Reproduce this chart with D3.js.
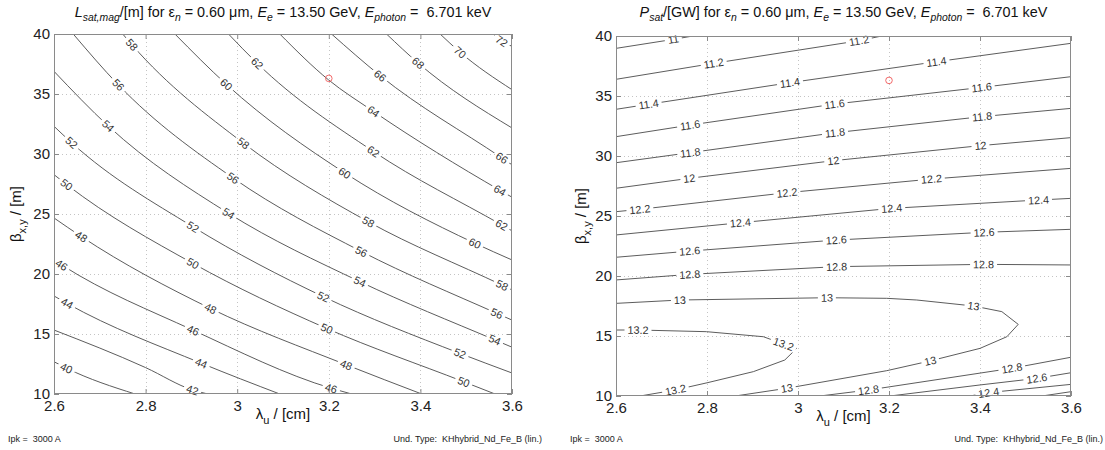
<!DOCTYPE html>
<html>
<head>
<meta charset="utf-8">
<script src="https://cdn.jsdelivr.net/npm/d3@7"></script>
<style>
  body { margin: 0; background: #fff; }
  svg { display: block; font-family: 'Liberation Sans', Arial, sans-serif; }
  text { white-space: pre; }
</style>
</head>
<body>
<div id="wrapper"></div>
<script>
// ---------------------------------------------------
// 1. DATA
// ---------------------------------------------------
const xTicks = [2.6, 2.8, 3, 3.2, 3.4, 3.6]
const yTicks = [10, 15, 20, 25, 30, 35, 40]
const designPoint = [3.2, 36.3]

// L_sat contours: [level, [[lambda_u, beta], ...]]
const lsatLines = [
  [40, [[2.6, 12.69], [2.628, 12.14], [2.777, 10]]],
  [42, [[2.6, 15.33], [2.8, 12.2], [2.903, 10.33], [2.936, 10]]],
  [44, [[2.6, 18.17], [2.628, 17.56], [2.922, 12.56], [3.093, 10]]],
  [46, [[2.6, 21.17], [2.617, 20.75], [2.903, 15.33], [3.206, 10.47], [3.25, 10]]],
  [48, [[2.6, 24.67], [2.66, 23.11], [2.941, 17.14], [3.239, 12.42], [3.403, 10]]],
  [50, [[2.6, 28.28], [2.628, 27.44], [2.903, 20.89], [3.195, 15.47], [3.494, 11.03], [3.563, 10]]],
  [52, [[2.6, 32.31], [2.639, 30.92], [2.903, 23.94], [3.188, 18.11], [3.486, 13.39], [3.6, 11.75]]],
  [54, [[2.6, 36.89], [2.719, 32.31], [2.981, 25.06], [3.268, 19.36], [3.563, 14.5], [3.6, 13.9]]],
  [56, [[2.642, 40], [2.74, 35.78], [2.991, 28], [3.272, 21.86], [3.567, 16.72], [3.6, 16.16]]],
  [58, [[2.75, 40], [2.77, 39.11], [3.013, 30.92], [3.286, 24.36], [3.578, 19.08], [3.6, 18.68]]],
  [60, [[2.864, 40], [2.977, 35.78], [3.235, 28.42], [3.519, 22.56], [3.6, 21.17]]],
  [62, [[2.981, 40], [3.043, 37.58], [3.297, 30.22], [3.578, 24.08], [3.6, 23.6]]],
  [64, [[3.093, 40], [3.199, 36.19], [3.297, 33.56], [3.574, 26.97], [3.6, 26.4]]],
  [66, [[3.206, 40], [3.312, 36.53], [3.578, 29.67], [3.6, 29.1]]],
  [68, [[3.326, 40], [3.395, 37.58], [3.6, 32.17]]],
  [70, [[3.443, 40], [3.486, 38.5], [3.6, 35.36]]],
  [72, [[3.559, 40], [3.578, 39.39], [3.6, 38.98]]],
]

// label anchors: [level, lambda_u, beta]
const lsatLabels = [
  [72, 3.578, 39.39], [70, 3.486, 38.5], [68, 3.395, 37.58],
  [66, 3.312, 36.53], [66, 3.578, 29.67],
  [64, 3.297, 33.56], [64, 3.574, 26.97],
  [62, 3.043, 37.58], [62, 3.297, 30.22], [62, 3.578, 24.08],
  [60, 2.977, 35.78], [60, 3.235, 28.42], [60, 3.519, 22.56],
  [58, 2.77, 39.11], [58, 3.013, 30.92], [58, 3.286, 24.36], [58, 3.578, 19.08],
  [56, 2.74, 35.78], [56, 2.991, 28], [56, 3.272, 21.86], [56, 3.567, 16.72],
  [54, 2.719, 32.31], [54, 2.981, 25.06], [54, 3.268, 19.36], [54, 3.563, 14.5],
  [52, 2.639, 30.92], [52, 2.903, 23.94], [52, 3.188, 18.11], [52, 3.486, 13.39],
  [50, 2.628, 27.44], [50, 2.903, 20.89], [50, 3.195, 15.47], [50, 3.494, 11.03],
  [48, 2.66, 23.11], [48, 2.941, 17.14], [48, 3.239, 12.42],
  [46, 2.617, 20.75], [46, 2.903, 15.33], [46, 3.206, 10.47],
  [44, 2.628, 17.56], [44, 2.922, 12.56],
  [42, 2.903, 10.33],
  [40, 2.628, 12.14],
]

// P_sat contours
const psatLines = [
  [11, [[2.6, 38.97], [2.726, 39.72], [2.769, 40]]],
  [11.2, [[2.6, 36.39], [2.814, 37.72], [3.133, 39.6], [3.184, 40]]],
  [11.4, [[2.6, 33.89], [2.671, 34.31], [2.982, 36.11], [3.305, 37.86], [3.6, 39.39]]],
  [11.6, [[2.6, 31.61], [2.763, 32.58], [3.081, 34.33], [3.404, 35.72], [3.6, 36.61]]],
  [11.8, [[2.6, 29.44], [2.763, 30.28], [3.081, 31.94], [3.404, 33.28], [3.6, 33.97]]],
  [12, [[2.6, 27.31], [2.761, 28.14], [3.078, 29.61], [3.4, 30.86], [3.6, 31.53]]],
  [12.2, [[2.6, 25.36], [2.653, 25.56], [2.975, 26.94], [3.294, 28.08], [3.6, 28.97]]],
  [12.4, [[2.6, 23.42], [2.873, 24.44], [3.206, 25.64], [3.528, 26.33], [3.6, 26.47]]],
  [12.6, [[2.6, 21.56], [2.763, 22.08], [3.085, 23.0], [3.408, 23.64], [3.6, 23.89]]],
  [12.8, [[2.6, 19.67], [2.763, 20.14], [3.085, 20.78], [3.408, 20.97], [3.6, 20.92]]],
  [13, [[2.6, 17.72], [2.741, 18.0], [3.063, 18.19], [3.195, 18.14], [3.261, 18.0], [3.386, 17.5],
        [3.448, 17.03], [3.484, 15.97], [3.459, 14.94], [3.4, 13.97], [3.29, 12.92], [3.195, 12.11],
        [2.975, 10.64], [2.862, 10]]],
  [13.2, [[2.6, 15.5], [2.649, 15.5], [2.799, 15.36], [2.924, 14.94], [2.968, 14.33], [2.997, 13.97],
          [2.971, 13.0], [2.902, 12.03], [2.8, 11.1], [2.73, 10.5], [2.653, 10]]],
  [12.8, [[3.048, 10], [3.155, 10.5], [3.47, 12.31], [3.6, 13.23]]],
  [12.6, [[3.202, 10], [3.4, 10.92], [3.525, 11.47], [3.6, 11.94]]],
  [12.4, [[3.378, 10], [3.418, 10.28], [3.6, 10.97]]],
  [12.2, [[3.536, 10], [3.6, 10.36]]],
]

const psatLabels = [
  [11, 2.726, 39.72],
  [11.2, 2.814, 37.72], [11.2, 3.133, 39.6],
  [11.4, 2.671, 34.31], [11.4, 2.982, 36.11], [11.4, 3.305, 37.86],
  [11.6, 2.763, 32.58], [11.6, 3.081, 34.33], [11.6, 3.404, 35.72],
  [11.8, 2.763, 30.28], [11.8, 3.081, 31.94], [11.8, 3.404, 33.28],
  [12, 2.761, 28.14], [12, 3.078, 29.61], [12, 3.4, 30.86],
  [12.2, 2.653, 25.56], [12.2, 2.975, 26.94], [12.2, 3.294, 28.08],
  [12.4, 2.873, 24.44], [12.4, 3.206, 25.64], [12.4, 3.528, 26.33],
  [12.6, 2.763, 22.08], [12.6, 3.085, 23.0], [12.6, 3.408, 23.64],
  [12.8, 2.763, 20.14], [12.8, 3.085, 20.78], [12.8, 3.408, 20.97],
  [13, 2.741, 18.0], [13, 3.063, 18.19], [13, 3.386, 17.5], [13, 3.29, 12.92], [13, 2.975, 10.64],
  [13.2, 2.649, 15.5], [13.2, 2.968, 14.33], [13.2, 2.73, 10.5],
  [12.8, 3.155, 10.5], [12.8, 3.47, 12.31],
  [12.6, 3.525, 11.47],
  [12.4, 3.418, 10.28],
]

// title pieces: [text, kind] kind: n normal, i italic, s italic subscript
const tail = [[' = 0.60 μm, ', 'n'], ['E', 'i'], ['e', 's'], [' = 13.50 GeV, ', 'n'],
  ['E', 'i'], ['photon', 's'], [' =  6.701 keV', 'n']]
const lsatTitle = [['L', 'i'], ['sat,mag', 's'], ['/[m] for ε', 'n'], ['n', 's']].concat(tail)
const psatTitle = [['P', 'i'], ['sat', 's'], ['/[GW] for ε', 'n'], ['n', 's']].concat(tail)
const xLabel = [['λ', 'n'], ['u', 'sn'], [' / [cm]', 'n']]
const yLabel = [['β', 'n'], ['x,y', 'sn'], [' / [m]', 'n']]

// ---------------------------------------------------
// 2. DIMENSIONS
// ---------------------------------------------------
const W = 1105
const H = 450
const panels = [
  { id: 'lsat', left: 54, top: 34, width: 458, height: 360, lines: lsatLines, labels: lsatLabels,
    curve: d3.curveMonotoneX, title: lsatTitle, yLabelX: 21, ipkX: 8, typeX: 542 },
  { id: 'psat', left: 616, top: 36, width: 455, height: 360, lines: psatLines, labels: psatLabels,
    curve: d3.curveLinear, title: psatTitle, yLabelX: 586, ipkX: 570, typeX: 1103 },
]

const svg = d3.select('#wrapper').append('svg').attr('width', W).attr('height', H)
svg.append('rect').attr('width', W).attr('height', H).attr('fill', '#fff')
const defs = svg.append('defs')

// writes rich text pieces into a text element
function richText(sel, pieces, size, subSize) {
  let shifted = false
  pieces.forEach(([str, kind]) => {
    const t = sel.append('tspan').text(str)
    const sub = kind === 's' || kind === 'sn'
    if (kind === 'i' || kind === 's') t.attr('font-style', 'italic')
    t.attr('font-size', sub ? subSize : size)
    if (sub && !shifted) { t.attr('dy', size * 0.3); shifted = true }
    else if (!sub && shifted) { t.attr('dy', -size * 0.3); shifted = false }
  })
}

function drawPanel(p) {
  const xScale = d3.scaleLinear().domain([2.6, 3.6]).range([p.left, p.left + p.width])
  const yScale = d3.scaleLinear().domain([10, 40]).range([p.top + p.height, p.top])

  // grid
  const grid = svg.append('g').attr('stroke', '#c4c4c4').attr('stroke-dasharray', '1,3').attr('stroke-width', 1)
  grid.selectAll('.gx').data(xTicks.slice(1, -1)).join('line')
    .attr('x1', (d) => Math.round(xScale(d)) + 0.5).attr('x2', (d) => Math.round(xScale(d)) + 0.5)
    .attr('y1', p.top).attr('y2', p.top + p.height)
  grid.selectAll('.gy').data(yTicks.slice(1, -1)).join('line')
    .attr('y1', (d) => Math.round(yScale(d)) + 0.5).attr('y2', (d) => Math.round(yScale(d)) + 0.5)
    .attr('x1', p.left).attr('x2', p.left + p.width)

  // contour lines, masked where labels sit
  defs.append('clipPath').attr('id', `clip-${p.id}`)
    .append('rect').attr('x', p.left).attr('y', p.top).attr('width', p.width).attr('height', p.height)
  const mask = defs.append('mask').attr('id', `mask-${p.id}`).attr('maskUnits', 'userSpaceOnUse')
    .attr('x', 0).attr('y', 0).attr('width', W).attr('height', H)
  mask.append('rect').attr('width', W).attr('height', H).attr('fill', '#fff')

  const lineGen = d3.line().x((d) => xScale(d[0])).y((d) => yScale(d[1])).curve(p.curve)
  const paths = svg.append('g').attr('mask', `url(#mask-${p.id})`)
    .append('g').attr('clip-path', `url(#clip-${p.id})`)
    .selectAll('path').data(p.lines).join('path')
    .attr('d', (d) => lineGen(d[1]))
    .attr('fill', 'none').attr('stroke', '#4a4a4a').attr('stroke-width', 0.9)

  // inline labels
  const labelG = svg.append('g').attr('font-size', 10.8).attr('fill', '#333')
  p.labels.forEach(([level, lx, ly]) => {
    const tx = xScale(lx)
    const ty = yScale(ly)
    let best = null
    paths.each(function (d) {
      if (d[0] !== level) return
      const len = this.getTotalLength()
      for (let s = 0; s <= len; s += 1) {
        const pt = this.getPointAtLength(s)
        const dist = (pt.x - tx) ** 2 + (pt.y - ty) ** 2
        if (!best || dist < best.dist) best = { dist, s, len, node: this, x: pt.x, y: pt.y }
      }
    })
    const a = best.node.getPointAtLength(Math.max(0, best.s - 5))
    const b = best.node.getPointAtLength(Math.min(best.len, best.s + 5))
    let angle = (Math.atan2(b.y - a.y, b.x - a.x) * 180) / Math.PI
    if (angle > 90) angle -= 180
    if (angle < -90) angle += 180
    const tf = `translate(${best.x},${best.y}) rotate(${angle})`
    const t = labelG.append('text').attr('transform', tf).attr('text-anchor', 'middle')
      .attr('dy', '0.36em').text(String(level))
    const w = t.node().getComputedTextLength()
    mask.append('rect').attr('transform', tf).attr('x', -w / 2 - 3).attr('y', -5)
      .attr('width', w + 6).attr('height', 10).attr('fill', '#000')
  })

  // design point
  svg.append('circle').attr('cx', xScale(designPoint[0])).attr('cy', yScale(designPoint[1]))
    .attr('r', 3.3).attr('fill', 'none').attr('stroke', '#f05a5a').attr('stroke-width', 0.9)

  // axes box and ticks
  const axisStyle = (g) => {
    g.select('.domain').remove()
    g.selectAll('.tick line').attr('stroke', '#8a8a8a')
    g.selectAll('text').attr('fill', '#222').attr('font-size', 15)
    g.attr('font-family', null)
  }
  svg.append('g').attr('transform', `translate(0,${p.top + p.height})`)
    .call(d3.axisBottom(xScale).tickValues(xTicks).tickSize(-5).tickPadding(6).tickFormat(d3.format('~g')))
    .call(axisStyle)
  svg.append('g').attr('transform', `translate(0,${p.top})`)
    .call(d3.axisTop(xScale).tickValues(xTicks).tickSize(-5).tickFormat(''))
    .call(axisStyle)
  svg.append('g').attr('transform', `translate(${p.left},0)`)
    .call(d3.axisLeft(yScale).tickValues(yTicks).tickSize(-5).tickPadding(4).tickFormat(d3.format('~g')))
    .call(axisStyle)
  svg.append('g').attr('transform', `translate(${p.left + p.width},0)`)
    .call(d3.axisRight(yScale).tickValues(yTicks).tickSize(-5).tickFormat(''))
    .call(axisStyle)
  svg.append('rect').attr('x', p.left + 0.5).attr('y', p.top + 0.5)
    .attr('width', p.width - 1).attr('height', p.height - 1)
    .attr('fill', 'none').attr('stroke', '#8a8a8a').attr('stroke-width', 1)

  // titles and labels
  const cx = p.left + p.width / 2
  svg.append('text').attr('x', cx).attr('y', 17).attr('text-anchor', 'middle').attr('fill', '#111')
    .call(richText, p.title, 14.4, 10.4)
  svg.append('text').attr('x', cx).attr('y', p.top + p.height + 25).attr('text-anchor', 'middle')
    .attr('fill', '#111').call(richText, xLabel, 15, 11)
  svg.append('text').attr('transform', `translate(${p.yLabelX},${p.top + p.height / 2}) rotate(-90)`)
    .attr('text-anchor', 'middle').attr('fill', '#111').call(richText, yLabel, 15, 11)

  // footer notes
  svg.append('text').attr('x', p.ipkX).attr('y', 442).attr('font-size', 9).attr('fill', '#222')
    .text('Ipk =  3000 A')
  svg.append('text').attr('x', p.typeX).attr('y', 442).attr('font-size', 9).attr('fill', '#222')
    .attr('text-anchor', 'end').text('Und. Type:  KHhybrid_Nd_Fe_B (lin.)')
}

panels.forEach(drawPanel)
</script>
</body>
</html>
